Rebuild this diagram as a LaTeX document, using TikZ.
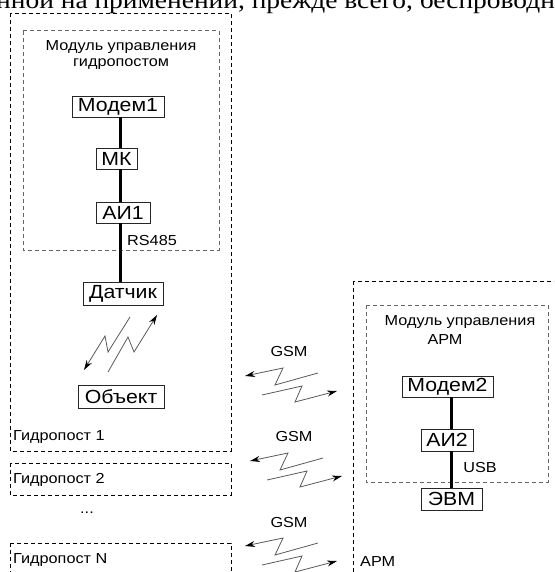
\documentclass[tikz,border=0pt]{standalone}
\usepackage{fontspec}
\setmainfont{Liberation Sans}[FakeStretch=1.12]
\newfontfamily\topserif{Liberation Serif}[FakeStretch=1.12]
\usetikzlibrary{arrows.meta}
\tikzset{
  blk/.style={draw=black!85, line width=0.9pt, inner sep=0pt, font=\fontsize{19}{21}\selectfont},
  lbl/.style={inner sep=0pt, font=\fontsize{14.5}{17}\selectfont},
  conn/.style={line width=3pt, black},
  outerdash/.style={draw=black, line width=0.9pt, dash pattern=on 4pt off 3pt},
  innerdash/.style={draw=black!60, line width=1pt, dash pattern=on 4pt off 3pt},
  bolt/.style={draw=black!65, line width=0.8pt, line join=miter, -{Stealth[length=10pt,width=6pt,black]}},
}
\begin{document}
\begin{tikzpicture}[x=1pt,y=-1pt]
\useasboundingbox (0,0) rectangle (554,572);
\clip (0,0) rectangle (554,572);
% cut-off line of text at the top (as in the reference)
\node[anchor=base west, inner sep=0pt, font=\topserif\fontsize{24.5}{26}\selectfont] (toptext) at (-4,8.5) {нной на применении, прежде всего, беспроводных};
% dashed containers
\draw[outerdash] (10,13) rectangle (231,451);
\draw[innerdash] (23,31) rectangle (219,250);
\draw[outerdash] (10,463) rectangle (231,495);
\draw[outerdash] (10,543) rectangle (231,590);
\draw[outerdash] (353,281) rectangle (570,590);
\draw[innerdash] (366,305) rectangle (548,482);
% module labels
\node[lbl, align=center] (mod1) at (121,55.5) {Модуль управления\\[-1pt]гидропостом};
\node[lbl] (mod2a) at (460,322) {Модуль управления};
\node[lbl] (mod2b) at (445,340) {АРМ};
% left chain
\node[blk, minimum width=92pt, minimum height=21pt] (m1) at (118,106.5) {Модем1};
\node[blk, minimum width=41pt, minimum height=21pt] (mk) at (116.5,158.5) {МК};
\node[blk, minimum width=54pt, minimum height=21pt] (ai1) at (123,212.5) {АИ1};
\node[blk, minimum width=80pt, minimum height=23pt] (dat) at (123,293.5) {Датчик};
\node[blk, minimum width=86pt, minimum height=23pt] (obj) at (121,396.5) {Объект};
\coordinate (lx) at (120,0);
\draw[conn] (m1.south -| lx) -- (mk.north -| lx);
\draw[conn] (mk.south -| lx) -- (ai1.north -| lx);
\draw[conn] (ai1.south -| lx) -- (dat.north -| lx);
\node[lbl] (rs) at (152,241) {RS485};
% right chain
\node[blk, minimum width=91pt, minimum height=21pt] (m2) at (447.5,386.5) {Модем2};
\node[blk, minimum width=52pt, minimum height=22pt] (ai2) at (447,440) {АИ2};
\node[blk, minimum width=61pt, minimum height=22pt] (evm) at (451.5,499) {ЭВМ};
\coordinate (rx) at (451,0);
\draw[conn] (m2.south -| rx) -- (ai2.north -| rx);
\draw[conn] (ai2.south -| rx) -- (evm.north -| rx);
\node[lbl] (usb) at (480,468) {USB};
% post labels
\node[lbl, anchor=west] (gp1) at (13,437) {Гидропост 1};
\node[lbl, anchor=west] (gp2) at (13,480) {Гидропост 2};
\node[lbl] (dots) at (87,513) {...};
\node[lbl, anchor=west] (gpn) at (13,560) {Гидропост N};
\node[lbl, anchor=west] (arm) at (360,562) {АРМ};
% sensor / object radio link
\draw[bolt] (130,317) -- (108,352) -- (105,336) -- (84,370);
\draw[bolt] (108,372) -- (128,337) -- (134,352) -- (157,315);
% GSM links
\foreach \ox/\oy/\gx/\gy [count=\i] in {240/360/289/352, 245/445/294/437, 240/530/289/523}{
  \node[lbl] (gsm\i) at (\gx,\gy) {GSM};
  \begin{scope}[shift={(\ox,\oy)}]
    \draw[bolt] (78,13) -- (35,25) -- (43,8) -- (5,16);
    \draw[bolt] (22,35) -- (62,26) -- (55,42) -- (97,31);
  \end{scope}
}
\end{tikzpicture}
\end{document}
